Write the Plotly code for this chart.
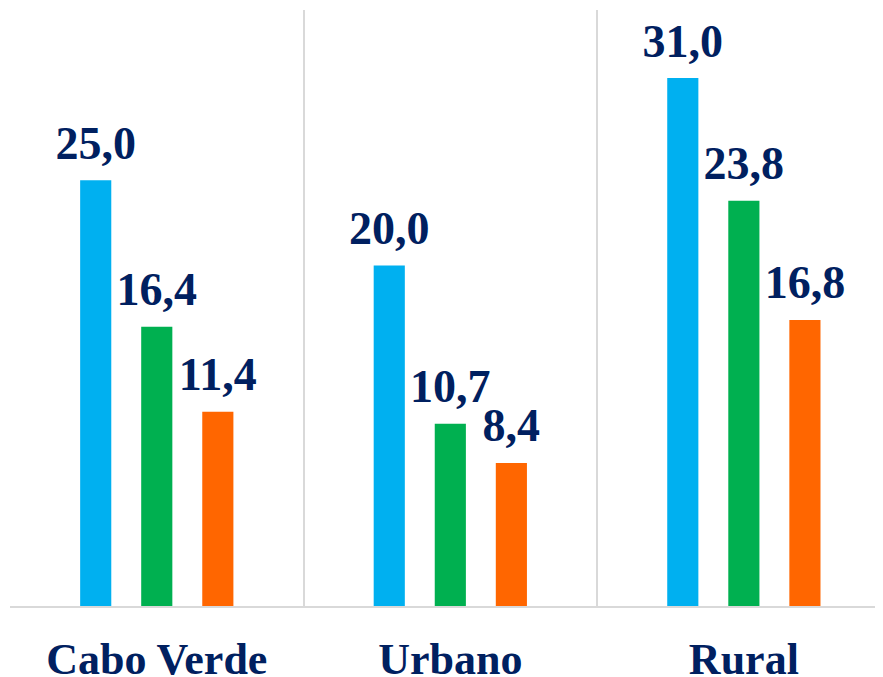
import plotly.graph_objects as go

# Dados
categorias = ['Cabo Verde', 'Urbano', 'Rural']
serie_1 = [25.0, 20.0, 31.0]
serie_2 = [16.4, 10.7, 23.8]
serie_3 = [11.4, 8.4, 16.8]

cores = ['#00B0F0', '#00B050', '#FF6600']
cor_texto = '#002060'
fonte = 'Liberation Serif'
folga = 0.5  # espaço entre a barra e o rótulo


def rotulo(v):
    return f'{v:.1f}'.replace('.', ',')


fig = go.Figure()
for i, (nome, valores, cor) in enumerate(zip(['Série 1', 'Série 2', 'Série 3'],
                                             [serie_1, serie_2, serie_3], cores)):
    fig.add_trace(go.Bar(
        x=categorias, y=valores, name=nome, offsetgroup=str(i),
        marker=dict(color=cor, line=dict(width=0)),
    ))
    # barra invisível por cima, só para o rótulo
    fig.add_trace(go.Bar(
        x=categorias, y=[folga] * len(valores), base=valores,
        offsetgroup=str(i), hoverinfo='skip',
        marker=dict(color='rgba(0,0,0,0)', line=dict(width=0)),
        text=[rotulo(v) for v in valores],
        textposition='outside',
        constraintext='none',
        cliponaxis=False,
        textfont=dict(family=fonte, size=46, color=cor_texto, weight='bold'),
    ))

fig.update_layout(
    width=875, height=677,
    margin=dict(l=2, r=0, t=2, b=79),
    paper_bgcolor='white',
    plot_bgcolor='white',
    barmode='group',
    bargap=0.376,
    bargroupgap=0.49,
    showlegend=False,
    xaxis=dict(
        range=[-0.5, 2.474],
        tickson='boundaries',
        showgrid=True, gridcolor='#D9D9D9', gridwidth=1.5,
        showline=True, linecolor='#D9D9D9', linewidth=2,
        ticks='', ticklabelstandoff=13, automargin=False,
        tickfont=dict(family=fonte, size=44, color=cor_texto, weight='bold'),
    ),
    yaxis=dict(range=[0, 35], visible=False, showgrid=False, zeroline=False),
)

fig.write_html("out.html")
